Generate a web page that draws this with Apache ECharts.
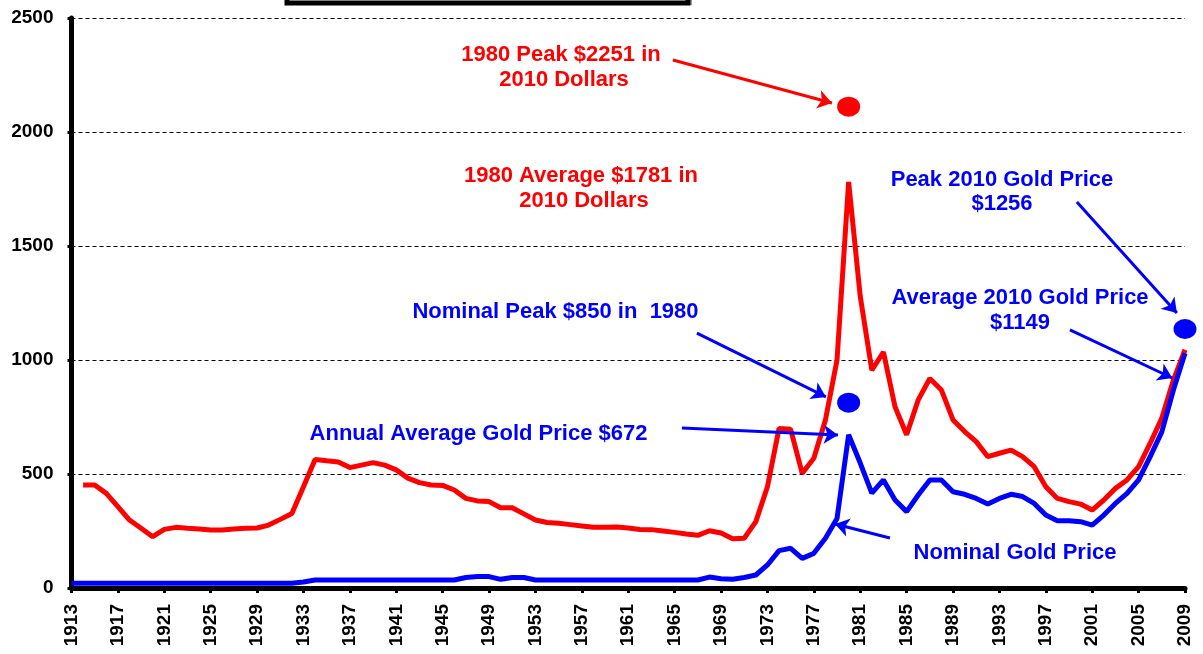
<!DOCTYPE html>
<html>
<head>
<meta charset="utf-8">
<script src="https://cdn.jsdelivr.net/npm/echarts@6/dist/echarts.min.js"></script>
<style>
  html, body { margin: 0; padding: 0; background: #fff; }
  #chart { width: 1203px; height: 654px; }
</style>
</head>
<body>
<div id="chart"></div>
<script>
// ---- Data ----
const years = [
  1913,1914,1915,1916,1917,1918,1919,1920,1921,1922,
  1923,1924,1925,1926,1927,1928,1929,1930,1931,1932,
  1933,1934,1935,1936,1937,1938,1939,1940,1941,1942,
  1943,1944,1945,1946,1947,1948,1949,1950,1951,1952,
  1953,1954,1955,1956,1957,1958,1959,1960,1961,1962,
  1963,1964,1965,1966,1967,1968,1969,1970,1971,1972,
  1973,1974,1975,1976,1977,1978,1979,1980,1981,1982,
  1983,1984,1985,1986,1987,1988,1989,1990,1991,1992,
  1993,1994,1995,1996,1997,1998,1999,2000,2001,2002,
  2003,2004,2005,2006,2007,2008,2009
];

// Gold price in 2010 dollars (red)
const realPrice = [
  null,452,452,415,357,298,262,225,257,266,
  262,259,254,254,259,262,263,276,301,327,
  444,564,558,553,528,539,550,539,518,482,
  462,452,450,430,393,382,379,352,352,325,
  298,287,284,278,272,266,266,268,263,257,
  256,250,244,237,231,251,241,216,218,291,
  444,700,696,503,569,737,1000,1781,1280,956,
  1035,795,672,825,919,868,737,686,642,576,
  591,605,576,532,444,393,379,368,342,386,
  437,474,532,635,745,912,1045
];

// Nominal gold price (blue)
const nominalPrice = [
  20.67,20.67,20.67,20.67,20.67,20.67,20.67,20.67,20.67,20.67,
  20.67,20.67,20.67,20.67,20.67,20.67,20.67,20.67,20.67,20.67,
  26,35,35,35,35,35,35,35,35,35,
  35,35,35,35,46,50,50,38,46,46,
  35,35,35,35,35,35,35,35,35,35,
  35,35,35,35,35,48,41,38,46,57,
  101,164,174,130,152,218,305,672,548,416,
  474,386,335,408,474,474,422,411,393,368,
  393,411,401,371,320,295,295,291,276,320,
  371,415,474,576,685,868,1030
];

// Highlighted dots: [year, value]
const redDots = [[1980, 2111]];
const blueDots = [[1980, 813], [2009, 1136]];

// y axis ticks
const yTicks = [0, 500, 1000, 1500, 2000, 2500];

// Annotation arrows in data space: [fromYear, fromValue, toYear, toValue]
const redArrows = [[1964.85, 2316, 1978.56, 2127]];
const blueArrows = [
  [1966.92, 1118, 1978.04, 838],
  [1965.63, 702, 1979.08, 671],
  [1983.56, 219, 1978.82, 281],
  [1999.68, 1693, 2008.3, 1206],
  [1999.08, 1132, 2007.9, 921]
];

// Annotation texts
const notes = [
  { text: '1980 Peak $2251 in', x: 561, y: 55, color: '#ff0000' },
  { text: '2010 Dollars', x: 564, y: 79.5, color: '#ff0000' },
  { text: '1980 Average $1781 in', x: 581, y: 176, color: '#ff0000' },
  { text: '2010 Dollars', x: 584, y: 200.5, color: '#ff0000' },
  { text: 'Peak 2010 Gold Price', x: 1002, y: 179.5, color: '#0000ff' },
  { text: '$1256', x: 1002, y: 204, color: '#0000ff' },
  { text: 'Average 2010 Gold Price', x: 1020, y: 297.5, color: '#0000ff' },
  { text: '$1149', x: 1020, y: 323, color: '#0000ff' },
  { text: 'Nominal Peak $850 in  1980', x: 555.5, y: 311.5, color: '#0000ff' },
  { text: 'Annual Average Gold Price $672', x: 478.5, y: 433.5, color: '#0000ff' },
  { text: 'Nominal Gold Price', x: 1015, y: 553, color: '#0000ff' }
];

const FONT = '"Liberation Sans", Arial, Helvetica, sans-serif';

const toPairs = (vals) => years.map((y, i) => [y, vals[i]]);
const toArrowData = (arr) => arr.map(a => [{ coord: [a[0], a[1]] }, { coord: [a[2], a[3]] }]);

const chart = echarts.init(document.getElementById('chart'), null, { renderer: 'canvas' });

const option = {
  animation: false,
  backgroundColor: '#ffffff',
  grid: {
    left: 71.5, right: 18, top: 18, bottom: 66,
    containLabel: false,
    outerBoundsMode: 'none'
  },
  xAxis: [
    {
      type: 'category',
      data: years.map(String),
      boundaryGap: false,
      axisLine: { show: true, onZero: false, lineStyle: { color: '#000', width: 5 } },
      axisTick: { show: true, interval: 3, length: 5, lineStyle: { color: '#000', width: 3 } },
      axisLabel: {
        interval: 3, rotate: 90, margin: 16,
        color: '#000', fontSize: 19, fontWeight: 'bold', fontFamily: FONT
      },
      splitLine: { show: false }
    },
    {
      type: 'value',
      min: 1913, max: 2009,
      show: false
    }
  ],
  yAxis: {
    type: 'value',
    min: yTicks[0], max: yTicks[yTicks.length - 1], interval: yTicks[1] - yTicks[0],
    axisLine: { show: true, lineStyle: { color: '#000', width: 5 } },
    axisTick: { show: true, length: 4, lineStyle: { color: '#000', width: 3 } },
    axisLabel: {
      margin: 18, color: '#000', fontSize: 19, fontWeight: 'bold', fontFamily: FONT,
      formatter: (v) => String(v)
    },
    splitLine: { show: true, lineStyle: { color: '#000', width: 1, type: [4, 3] } }
  },
  series: [
    {
      name: 'Real',
      type: 'line',
      xAxisIndex: 1,
      data: toPairs(realPrice),
      showSymbol: false,
      symbol: 'none',
      lineStyle: { color: '#ff0000', width: 5 },
      itemStyle: { color: '#ff0000' },
      z: 2,
      markLine: {
        silent: true,
        symbol: ['none', 'arrow'],
        symbolSize: 14,
        label: { show: false },
        emphasis: { disabled: true },
        lineStyle: { color: '#ff0000', width: 3, type: 'solid' },
        data: toArrowData(redArrows)
      }
    },
    {
      name: 'Nominal',
      type: 'line',
      xAxisIndex: 1,
      data: toPairs(nominalPrice),
      showSymbol: false,
      symbol: 'none',
      lineStyle: { color: '#0000ff', width: 5 },
      itemStyle: { color: '#0000ff' },
      z: 3,
      markLine: {
        silent: true,
        symbol: ['none', 'arrow'],
        symbolSize: 14,
        label: { show: false },
        emphasis: { disabled: true },
        lineStyle: { color: '#0000ff', width: 3, type: 'solid' },
        data: toArrowData(blueArrows)
      }
    },
    {
      type: 'scatter',
      xAxisIndex: 1,
      data: redDots,
      symbol: 'circle',
      symbolSize: [23, 20],
      itemStyle: { color: '#ff0000', opacity: 1 },
      clip: false,
      z: 4
    },
    {
      type: 'scatter',
      xAxisIndex: 1,
      data: blueDots,
      symbol: 'circle',
      symbolSize: [23, 20],
      itemStyle: { color: '#0000ff', opacity: 1 },
      clip: false,
      z: 4
    }
  ],
  graphic: [
    {
      type: 'rect',
      shape: { x: 289, y: -40, width: 402, height: 44 },
      style: { fill: 'none', stroke: '#9a9a9a', lineWidth: 2 },
      z: 10
    },
    {
      type: 'rect',
      shape: { x: 287, y: -40, width: 401, height: 43 },
      style: { fill: '#ffffff', stroke: '#000000', lineWidth: 5 },
      z: 11
    }
  ].concat(notes.map(n => ({
    type: 'text',
    x: n.x, y: n.y,
    style: {
      text: n.text,
      fill: n.color,
      font: 'bold 22px ' + FONT,
      textAlign: 'center',
      textVerticalAlign: 'middle'
    },
    z: 20
  })))
};

chart.setOption(option);
</script>
</body>
</html>
